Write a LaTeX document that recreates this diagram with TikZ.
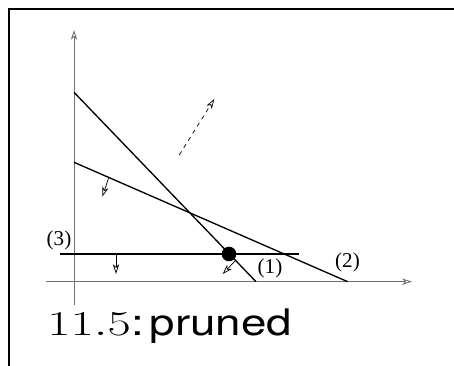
\documentclass[tikz,border=0pt]{standalone}
\usepackage{fontspec}
\setmainfont{Liberation Serif}
\setsansfont{TeX Gyre Heros}
\usepackage{amsmath}
\usepackage{xcolor}
\usetikzlibrary{arrows.meta}
\definecolor{axis-gray}{HTML}{707070}

\begin{document}
\begin{tikzpicture}[x=0.025cm, y=-0.025cm,
    >={Stealth[open, length=7pt, width=4.5pt, inset=2pt]},
    axis/.style={->, color=axis-gray, line width=0.6pt},
    bound/.style={line width=0.95pt},
    dir/.style={->, line width=0.5pt},
    lbl/.style={font=\fontsize{15}{17}\selectfont, inner sep=0pt},
    big/.style={font=\sffamily\fontsize{26}{30}\selectfont, anchor=base west, inner sep=0pt}]
    \useasboundingbox (0,0) rectangle (454,366);
    % frame
    \draw[line width=1.4pt] (9,366) -- (9,9) -- (454,9);
    % axes
    \draw[axis] (74,305) -- (74,30);
    \draw[axis] (46,281.7) -- (412,281.7);
    % constraints
    \draw[bound] (74,92.3) -- (256,281.7);
    \draw[bound] (74,162.3) -- (347.7,281.7);
    \draw[bound] (60,254) -- (299,254);
    \node[lbl] (c1) at (270,268) {(1)};
    \node[lbl] (c2) at (347.5,262.5) {(2)};
    \node[lbl] (c3) at (59,240) {(3)};
    % feasible side arrows
    \draw[dir] (116,254) -- (116,274);
    \draw[dir] (109,176.7) -- (102.3,196.7);
    \draw[dir] (235,261) -- (222.7,274);
    % objective direction
    \draw[dir, dashed] (179.3,155) -- (214.3,99);
    % optimum
    \fill (229,254) circle (7.3);
    \node[big, xscale=1.45] (num) at (47,336) {$11.5$};
    \node[big, xscale=1.25] (word) at (num.base east) {:\hspace{0.12em}pruned};
\end{tikzpicture}
\end{document}
